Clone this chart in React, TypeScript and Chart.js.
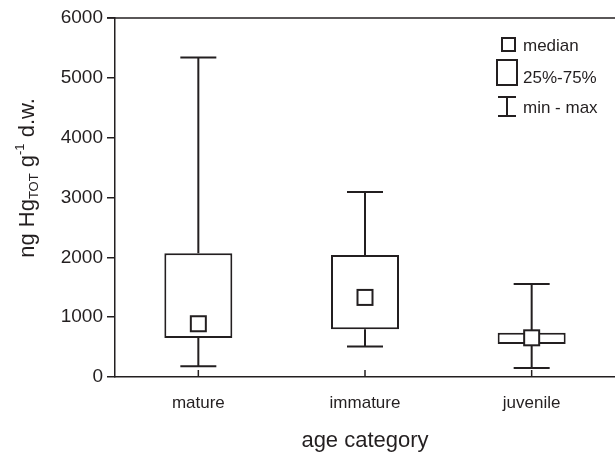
import { useEffect, useRef } from "react";
import { Chart, registerables } from "chart.js";

Chart.register(...registerables);

const categories = ["mature", "immature", "juvenile"];
const minValues = [180, 510, 150];
const q1Values = [650, 800, 550];
const medianValues = [890, 1330, 655];
const q3Values = [2070, 2040, 740];
const maxValues = [5340, 3090, 1555];
const yTickValues = [0, 1000, 2000, 3000, 4000, 5000, 6000];

const INK = "#231f20";
const FONT = "'Liberation Sans', Arial, sans-serif";

const boxPlugin = {
  id: "boxExtras",
  beforeDatasetsDraw(chart: any) {
    const { ctx, scales } = chart;
    const x = scales.x;
    const y = scales.y;
    ctx.save();
    ctx.strokeStyle = INK;
    ctx.lineWidth = 2;
    const capHalf = 18;
    categories.forEach((_, i) => {
      const cx = x.getPixelForValue(i);
      const yMax = y.getPixelForValue(maxValues[i]);
      const yMin = y.getPixelForValue(minValues[i]);
      const yQ3 = y.getPixelForValue(q3Values[i]);
      const yQ1 = y.getPixelForValue(q1Values[i]);
      ctx.beginPath();
      ctx.moveTo(cx, yQ3);
      ctx.lineTo(cx, yMax);
      ctx.moveTo(cx - capHalf, yMax);
      ctx.lineTo(cx + capHalf, yMax);
      ctx.moveTo(cx, yQ1);
      ctx.lineTo(cx, yMin);
      ctx.moveTo(cx - capHalf, yMin);
      ctx.lineTo(cx + capHalf, yMin);
      ctx.stroke();
    });
    ctx.restore();
  },
  afterDatasetsDraw(chart: any) {
    const { ctx, scales } = chart;
    const x = scales.x;
    const y = scales.y;
    ctx.save();
    ctx.strokeStyle = INK;
    ctx.fillStyle = "#ffffff";
    ctx.lineWidth = 2;
    const half = 7.5;
    categories.forEach((_, i) => {
      const cx = x.getPixelForValue(i);
      const cy = y.getPixelForValue(medianValues[i]);
      ctx.fillRect(cx - half, cy - half, half * 2, half * 2);
      ctx.strokeRect(cx - half, cy - half, half * 2, half * 2);
    });
    ctx.restore();
  },
  afterDraw(chart: any) {
    const { ctx, scales, chartArea } = chart;
    const x = scales.x;
    const y = scales.y;
    ctx.save();
    ctx.strokeStyle = INK;
    ctx.fillStyle = INK;
    ctx.lineWidth = 1.5;
    // top frame line
    const yTop = y.getPixelForValue(6000);
    ctx.beginPath();
    ctx.moveTo(chartArea.left - 8, yTop);
    ctx.lineTo(chartArea.right, yTop);
    ctx.stroke();
    // inward x ticks
    ctx.beginPath();
    categories.forEach((_, i) => {
      const cx = x.getPixelForValue(i);
      ctx.moveTo(cx, chartArea.bottom);
      ctx.lineTo(cx, chartArea.bottom - 7);
    });
    ctx.stroke();

    // x title
    ctx.font = `22px ${FONT}`;
    ctx.textAlign = "center";
    ctx.textBaseline = "alphabetic";
    ctx.fillText("age category", (chartArea.left + chartArea.right) / 2, 447);

    // y title with subscript and superscript
    const F = 22;
    const S = 13;
    const parts: { t: string; size: number; dy: number }[] = [
      { t: "ng Hg", size: F, dy: 0 },
      { t: "TOT", size: S, dy: 4 },
      { t: " g", size: F, dy: 0 },
      { t: "-1", size: S, dy: -10 },
      { t: " d.w.", size: F, dy: 0 },
    ];
    let total = 0;
    parts.forEach((p) => {
      ctx.font = `${p.size}px ${FONT}`;
      total += ctx.measureText(p.t).width;
    });
    ctx.translate(34, 178);
    ctx.rotate(-Math.PI / 2);
    ctx.textAlign = "left";
    let px = -total / 2;
    parts.forEach((p) => {
      ctx.font = `${p.size}px ${FONT}`;
      ctx.fillText(p.t, px, p.dy);
      px += ctx.measureText(p.t).width;
    });
    ctx.setTransform(1, 0, 0, 1, 0, 0);

    // legend
    ctx.lineWidth = 2;
    ctx.strokeRect(502, 38, 13, 13);
    ctx.strokeRect(497, 60, 20, 25);
    ctx.beginPath();
    ctx.moveTo(498, 97);
    ctx.lineTo(516, 97);
    ctx.moveTo(507, 97);
    ctx.lineTo(507, 116);
    ctx.moveTo(498, 116);
    ctx.lineTo(516, 116);
    ctx.stroke();
    ctx.font = `17px ${FONT}`;
    ctx.textAlign = "left";
    ctx.textBaseline = "middle";
    ctx.fillText("median", 523, 46);
    ctx.fillText("25%-75%", 523, 78);
    ctx.fillText("min - max", 523, 108);
    ctx.restore();
  },
};

export default function App() {
  const canvasRef = useRef<HTMLCanvasElement | null>(null);

  useEffect(() => {
    document.body.style.margin = "0";
    const canvas = canvasRef.current;
    if (!canvas) return;
    const chart = new Chart(canvas, {
      type: "bar",
      data: {
        labels: categories,
        datasets: [
          {
            label: "25%-75%",
            data: categories.map((_, i) => [q1Values[i], q3Values[i]]) as any,
            backgroundColor: "#ffffff",
            borderColor: INK,
            borderWidth: 2,
            borderSkipped: false,
            barPercentage: 0.408,
            categoryPercentage: 1,
          },
        ],
      },
      options: {
        responsive: false,
        animation: false,
        devicePixelRatio: 1,
        layout: { padding: { top: 18, right: 0, left: 0, bottom: 0 } },
        plugins: {
          legend: { display: false },
          tooltip: { enabled: false },
        },
        scales: {
          x: {
            offset: true,
            grid: { display: false },
            border: { display: true, color: INK, width: 1.5 },
            ticks: {
              color: INK,
              font: { family: FONT, size: 17 },
              padding: 8,
              maxRotation: 0,
            },
            afterFit: (s: any) => {
              s.height = 79;
            },
          },
          y: {
            min: 0,
            max: 6000,
            afterBuildTicks: (s: any) => {
              s.ticks = yTickValues.map((v) => ({ value: v }));
            },
            grid: {
              display: true,
              drawOnChartArea: false,
              drawTicks: true,
              tickLength: 8,
              color: INK,
              lineWidth: 1.5,
            },
            border: { display: true, color: INK, width: 1.5 },
            ticks: {
              color: INK,
              font: { family: FONT, size: 19 },
              padding: 4,
              callback: (v: any) => String(v),
            },
            afterFit: (s: any) => {
              s.width = 115;
            },
          },
        },
      },
      plugins: [boxPlugin],
    });
    return () => chart.destroy();
  }, []);

  return (
    <div style={{ position: "absolute", left: 0, top: 0, width: 615, height: 456, background: "#fff" }}>
      <canvas ref={canvasRef} width={615} height={456} style={{ display: "block" }} />
    </div>
  );
}
